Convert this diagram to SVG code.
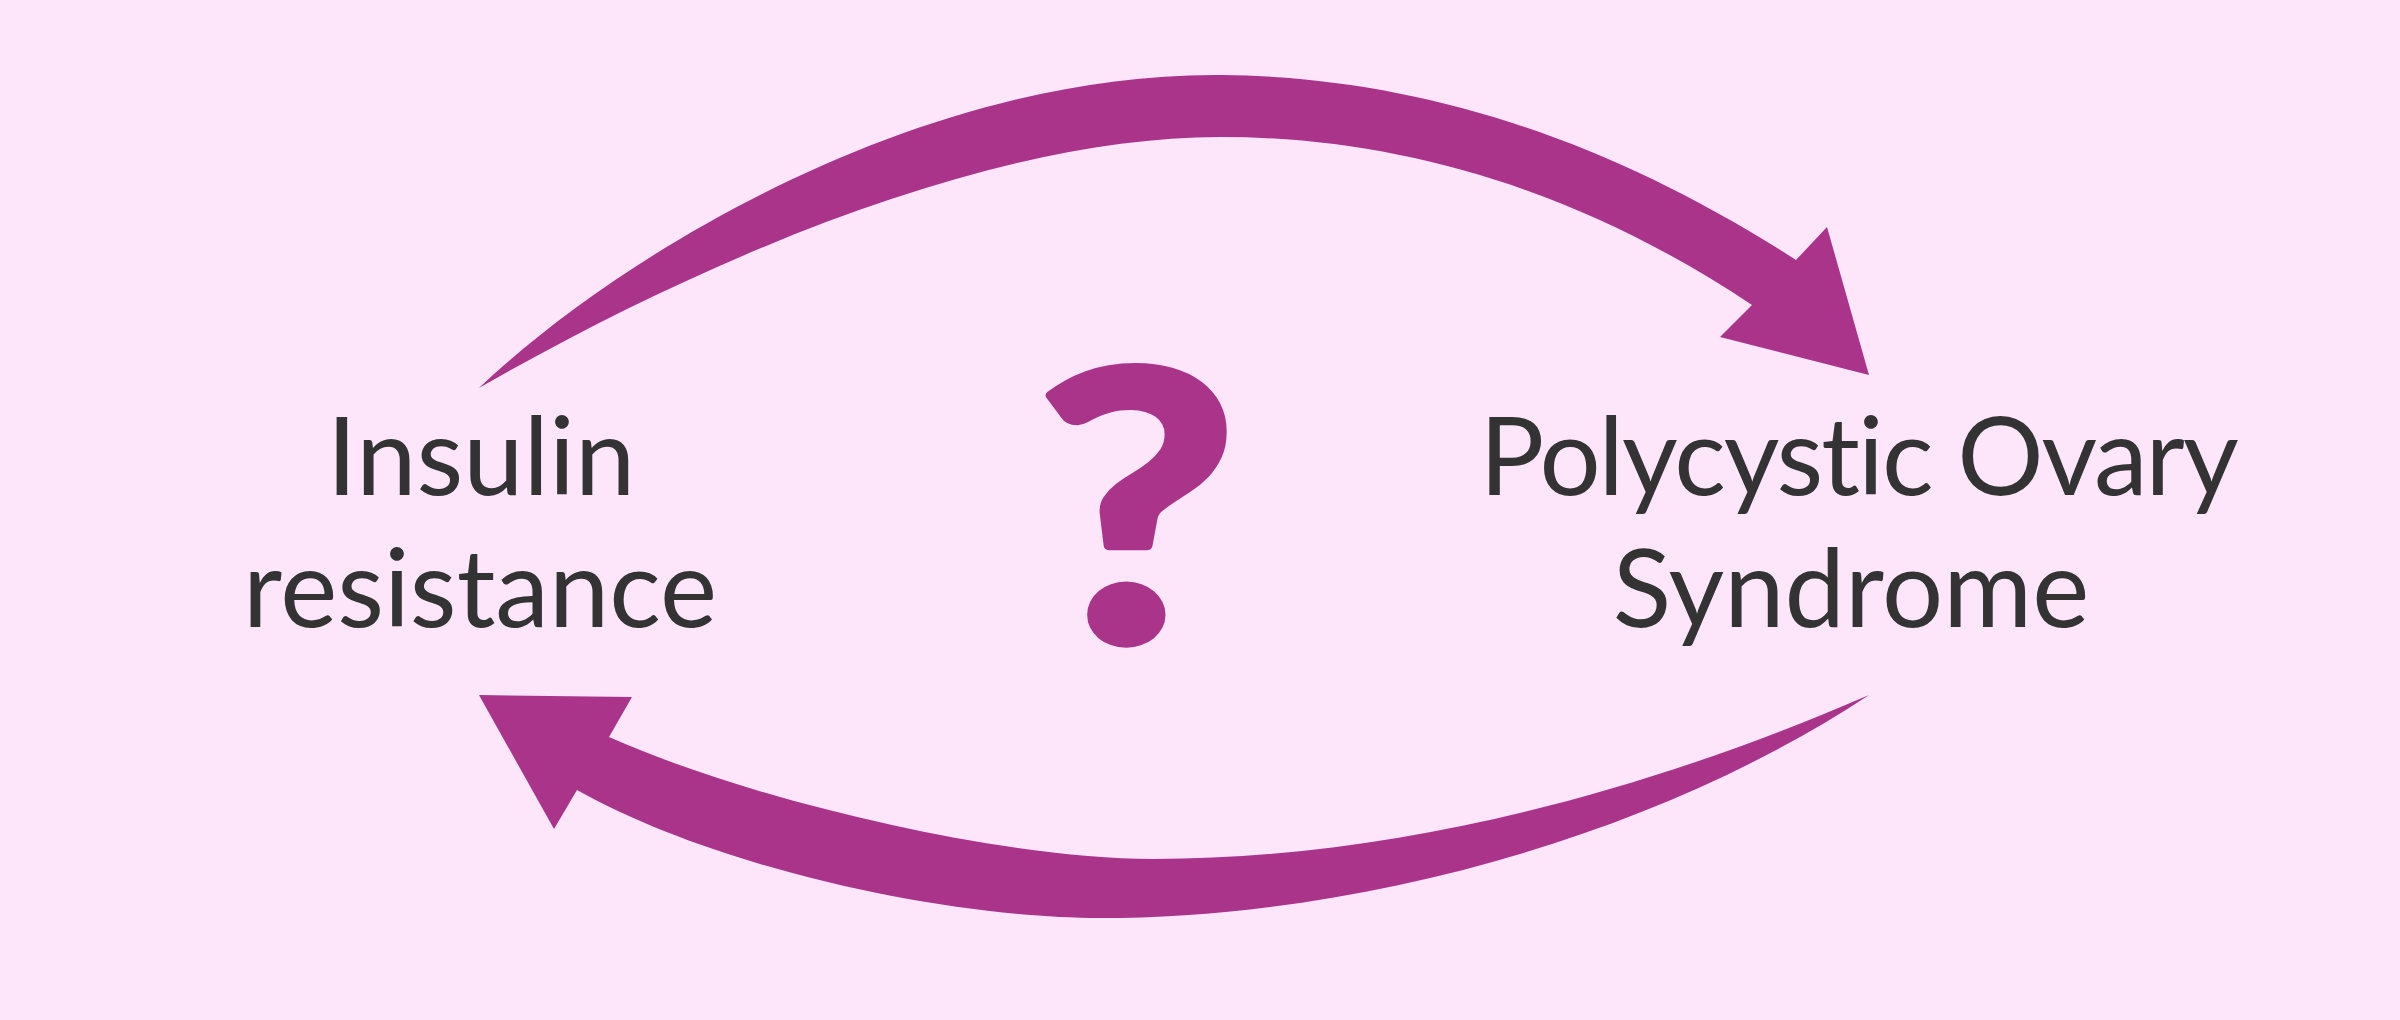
<svg xmlns="http://www.w3.org/2000/svg" width="2400" height="1020" viewBox="0 0 2400 1020">
<style>
.lbl{font-family:Lato,"Open Sans","Liberation Sans",sans-serif;font-size:108px;fill:#333333;text-anchor:middle;font-variant-ligatures:none}
.arrow{fill:#a9348a;stroke:none}
.q{font-family:Lato,"Liberation Sans",sans-serif;font-weight:bold;font-size:372px;fill:#a9348a;stroke:#a9348a;stroke-width:10;stroke-linejoin:round;text-anchor:middle}
</style>
<rect x="0" y="0" width="2400" height="1020" fill="#fee6fa"/>
<g id="connectors">
<path id="arrow-ir-to-pcos" class="arrow" d="M479,388 C630,245 930,72 1222,75 C1420,77 1610,140 1796,260 L1827,227 L1869,375 L1720,337 L1752,305 C1580,190 1400,137 1220,137 C1000,137 720,250 479,388 Z"/>
<path id="arrow-pcos-to-ir" class="arrow" d="M1869,695 C1650,840 1350,918 1100,918 C950,918 720,870 577,790 L554,829 L479,695 L632,697 L609,737 C750,800 1000,859 1153,859 C1400,859 1650,790 1869,695 Z"/>
</g>
<g id="node-insulin-resistance">
<text class="lbl" x="481" y="495">Insulin</text>
<text class="lbl" x="480" y="627">resistance</text>
</g>
<g id="node-pcos">
<text class="lbl" x="1858" y="495" style="letter-spacing:-2px">Polycystic Ovary</text>
<text class="lbl" x="1851" y="627">Syndrome</text>
</g>
<g id="node-question">
<text class="q" transform="translate(1137,640) scale(1.18,1)" x="0" y="0">?</text>
</g>
</svg>
